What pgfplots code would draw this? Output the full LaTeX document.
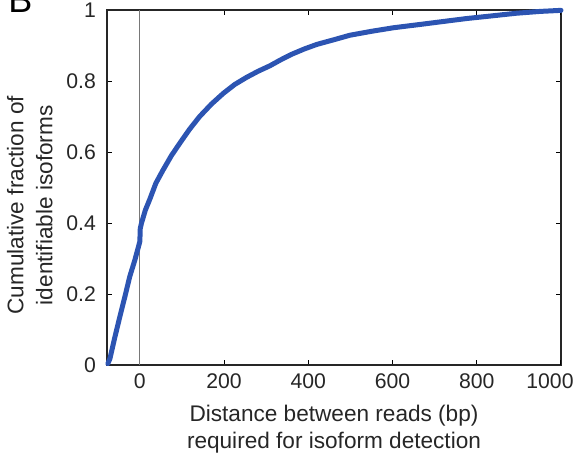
\documentclass[border=0pt]{standalone}
\usepackage{pgfplots}
\pgfplotsset{compat=1.18}
\usepackage{fontspec}
\setmainfont{Liberation Sans}
\definecolor{curveblue}{RGB}{44,84,178}
\definecolor{vgray}{RGB}{120,120,120}
\begin{document}
\begin{tikzpicture}
\useasboundingbox (-53.5pt,-43.5pt) rectangle (236pt,182.5pt);
\node[anchor=base west, inner sep=0pt, font=\fontsize{18}{20}\selectfont] at (-49.5pt,176.5pt) {B};
\begin{axis}[
  at={(0,0)}, anchor=south west,
  scale only axis, width=227pt, height=177.5pt,
  xmin=-78, xmax=1000, ymin=0, ymax=1,
  xtick={0,200,400,600,800},
  xticklabels={0,200,400,600,800},
  extra x ticks={1000},
  extra x tick labels={1000},
  extra x tick style={xticklabel style={xshift=-5.5pt}},
  ytick={0,0.2,0.4,0.6,0.8,1},
  yticklabels={0,0.2,0.4,0.6,0.8,1},
  tick align=inside, major tick length=2.5pt,
  tick style={black, line width=0.5pt},
  axis line style={line width=0.9pt, black!85},
  /pgf/number format/assume math mode=true,
  /pgf/number format/1000 sep={},
  ticklabel style={font=\fontsize{10.6}{13}\selectfont, black!85},
  xticklabel style={yshift=-1pt},
  yticklabel style={xshift=-2pt},
  label style={font=\fontsize{11.3}{13.5}\selectfont, black!85, align=center},
  xlabel={Distance between reads (bp)\\required for isoform detection},
  ylabel={Cumulative fraction of\\[1pt]identifiable isoforms},
  xlabel style={at={(axis description cs:0.5,-0.113)}, anchor=north, inner sep=0pt},
  ylabel style={at={(axis description cs:-0.17,0.45)}, anchor=center, inner sep=0pt},
  clip=false,
]
\addplot[vgray, line width=0.6pt] coordinates {(0,0) (0,1)};
\addplot[curveblue, line width=2.5pt, line join=round, line cap=round] coordinates {
(-76,0.004) (-71,0.018) (-60,0.075) (-47.5,0.136) (-35,0.195) (-24,0.249) (-12,0.295) (-4,0.330) (0,0.348)
(1,0.385) (4,0.400) (13,0.436) (24,0.468) (38,0.512) (55,0.549) (75,0.590) (95,0.625)
(118,0.664) (142,0.700) (170,0.735) (198,0.765) (225,0.790) (253,0.810) (280,0.827)
(309,0.843) (335,0.860) (360,0.875) (390,0.890) (420,0.903) (460,0.916) (499,0.929)
(550,0.940) (602,0.950) (670,0.960) (736,0.970) (776,0.976) (840,0.984) (895,0.991)
(950,0.996) (1000,0.999)
};
\end{axis}
\end{tikzpicture}
\end{document}
